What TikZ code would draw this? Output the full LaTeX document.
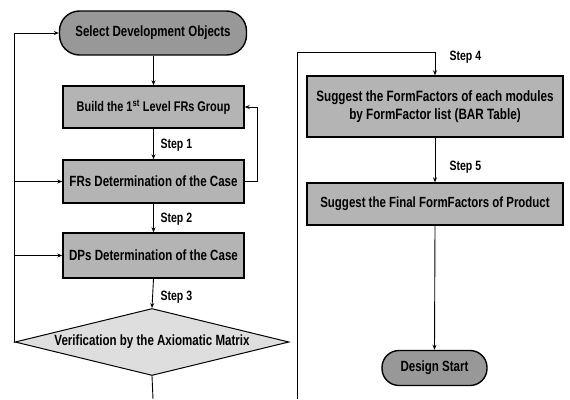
\documentclass[tikz,border=0pt]{standalone}
\usepackage{fontspec}
\setmainfont{Liberation Sans}[FakeStretch=0.78]
\usetikzlibrary{shapes.geometric,arrows.meta,positioning}
\definecolor{pillgray}{HTML}{989898}
\definecolor{boxgray}{HTML}{B4B4B4}
\definecolor{diagray}{HTML}{DEDEDE}
\begin{document}
\begin{tikzpicture}[x=1pt,y=-1pt,
  every node/.style={font=\bfseries\fontsize{14.8}{17}\selectfont},
  pill/.style={draw, line width=1.4pt, fill=pillgray, rounded corners=20pt, inner sep=0pt},
  procbox/.style={draw, line width=1.4pt, fill=boxgray, inner sep=0pt, align=center},
  decision/.style={draw, line width=1pt, fill=diagray, diamond, aspect=4.1, inner sep=0pt},
  steplabel/.style={font=\bfseries\fontsize{13.5}{15}\selectfont, anchor=west},
  conn/.style={line width=0.9pt, -{Stealth[length=5pt,width=4pt]}},
  plain/.style={line width=0.9pt}]
\useasboundingbox (0,0) rectangle (570,399);
% left column
\node[pill, minimum width=187pt, minimum height=44pt] (sel) at (153,33) {Select Development Objects};
\node[procbox, minimum width=181pt, minimum height=42pt, font=\bfseries\fontsize{14}{16}\selectfont] (build) at (153.5,107) {Build the 1\textsuperscript{st} Level FRs Group};
\node[procbox, minimum width=181pt, minimum height=43pt] (frs) at (153.5,181.5) {FRs Determination of the Case};
\node[procbox, minimum width=181pt, minimum height=45pt] (dps) at (153.5,255.5) {DPs Determination of the Case};
\node[decision, minimum width=274pt, minimum height=67pt] (ver) at (152,342) {Verification by the Axiomatic Matrix};
\coordinate (vout) at (153,399);
\node[steplabel] at (157,145) {Step 1};
\node[steplabel] at (157,219) {Step 2};
\node[steplabel] at (157,297) {Step 3};
\draw[conn] (sel.south -| build.north) -- (build.north);
\draw[conn] (build.south) -- (frs.north);
\draw[conn] (frs.south) -- (dps.north);
\draw[conn] (dps.south) -- (ver.north);
\draw[plain] (ver.south) -- (vout);
\draw[conn] (frs.east) -- ++(13,0) |- (build.east);
\coordinate (lx) at (14,0);
\draw[conn] (ver.west) -| (lx |- sel.west) -- (sel.west);
\draw[conn] (lx |- frs.west) -- (frs.west);
\draw[conn] (lx |- dps.west) -- (dps.west);
% right column
\node[procbox, minimum width=256pt, minimum height=61pt, font=\bfseries\fontsize{15}{18}\selectfont] (sug) at (435,106.5) {Suggest the FormFactors of each modules\\by FormFactor list (BAR Table)};
\node[procbox, minimum width=256pt, minimum height=42pt, font=\bfseries\fontsize{14.7}{17}\selectfont] (fin) at (435,204) {Suggest the Final FormFactors of Product};
\node[pill, minimum width=105pt, minimum height=35pt, rounded corners=17pt] (ds) at (434.5,368) {Design Start};
\coordinate (rin) at (297,399);
\coordinate (rtop) at (297,52);
\node[steplabel] at (446,57) {Step 4};
\node[steplabel] at (446,167) {Step 5};
\draw[conn] (rin) -- (rtop) -| (sug.north);
\draw[conn] (sug.south) -- (fin.north);
\draw[conn] (fin.south) -- (ds.north);
\end{tikzpicture}
\end{document}
